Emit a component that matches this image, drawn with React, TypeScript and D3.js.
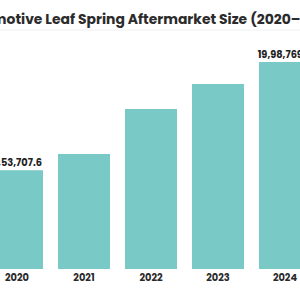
import React, { useEffect, useRef, useState } from "react";
import * as d3 from "d3";

const years = ["2020", "2021", "2022", "2023", "2024"];
const marketSize = [953707.6, 1110400, 1544900, 1786300, 1998769.4];
const valueLabels = ["9,53,707.6", "", "", "", "19,98,769.4"];
const title = "Automotive Leaf Spring Aftermarket Size (2020–2024)";

const W = 300;
const H = 300;
const FONT = "Poppins, Inter, 'Open Sans', sans-serif";
const BAR = "#79C9C6";
const BASE_TITLE_SIZE = 13.5;

export default function App() {
  const titleRef = useRef<SVGTextElement>(null);
  const [titleLayout, setTitleLayout] = useState({ x: 0, size: BASE_TITLE_SIZE });

  // The title runs wider than the frame: size it so the span from the middle of
  // "m" to the end of the dash after "2020" fills the width, then shift it left.
  useEffect(() => {
    const el = titleRef.current;
    if (!el) return;
    const mStart = el.getSubStringLength(0, 4);
    const mWidth = el.getSubStringLength(4, 1);
    const dashEnd = title.indexOf("–") + 1;
    const upToDash = el.getSubStringLength(0, dashEnd);
    const visible = upToDash - (mStart + mWidth * 0.55);
    const k = 301 / visible;
    setTitleLayout({ x: -(mStart + mWidth * 0.55) * k, size: BASE_TITLE_SIZE * k });
  }, []);

  const x = d3.scaleBand<string>().domain(years).range([-9, 311]).paddingInner(0.224).paddingOuter(0);
  const y = d3.scaleLinear().domain([0, d3.max(marketSize) as number]).range([269, 62]);

  return (
    <svg width={W} height={H} style={{ display: "block", position: "absolute", left: 0, top: 0 }}>
      <rect width={W} height={H} fill="#fff" />
      <text
        ref={titleRef}
        x={titleLayout.x}
        y={23.5}
        fontFamily={FONT}
        fontWeight={700}
        fontSize={titleLayout.size}
        fill="#2b2b2b"
      >
        {title}
      </text>
      <line x1={0} x2={W} y1={30} y2={30} stroke="#eef0f0" strokeWidth={1} />
      {years.map((yr, i) => {
        const bx = x(yr) as number;
        const top = y(marketSize[i]);
        return (
          <g key={yr}>
            <rect x={bx} y={top} width={x.bandwidth()} height={y(0) - top} fill={BAR} />
            {valueLabels[i] && (
              <text
                x={bx + x.bandwidth() / 2}
                y={top - 4.5}
                textAnchor="middle"
                fontFamily={FONT}
                fontWeight={700}
                fontSize={9.8}
                fill="#222"
              >
                {valueLabels[i]}
              </text>
            )}
            <text
              x={bx + x.bandwidth() / 2}
              y={281}
              textAnchor="middle"
              fontFamily={FONT}
              fontWeight={700}
              fontSize={9.8}
              fill="#2a2a2a"
            >
              {yr}
            </text>
          </g>
        );
      })}
    </svg>
  );
}
